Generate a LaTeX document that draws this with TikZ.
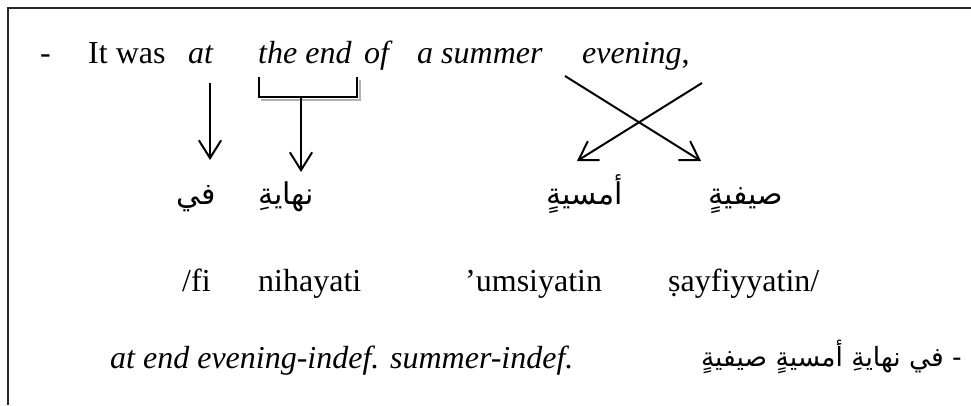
\documentclass[tikz,border=0pt]{standalone}
\usepackage{fontspec}
\setmainfont{Liberation Serif}
\newfontfamily\arabicfont[Script=Arabic]{DejaVu Sans}
\TeXXeTstate=1
\usetikzlibrary{arrows.meta}
\begin{document}
\begin{tikzpicture}[x=1pt,y=1pt,
  txt/.style={inner sep=0pt, anchor=base west, font=\fontsize{32}{36}\selectfont},
  itx/.style={txt, font=\fontsize{32}{36}\selectfont\itshape},
  arb/.style={inner sep=0pt, anchor=base, font=\fontsize{30}{34}\selectfont\arabicfont},
  arr/.style={line width=2pt, -{Straight Barb[angle=64:21pt, line width=2pt]}},
  frame/.style={line width=1.6pt, black!85}]
\useasboundingbox (0,0) rectangle (971,-405);
% frame (only top and left edges visible)
\coordinate (fbl) at (8,-405);
\coordinate (ftl) at (8,-8);
\coordinate (ftr) at (971,-8);
\draw[frame] (fbl) -- (ftl) -- (ftr);
% row 1
\node[txt] (dash) at (40,-63) {-};
\node[txt] (itwas) at (88,-63) {It was};
\node[itx] (at) at (188,-63) {at};
\node[itx] (theend) at (258,-63) {the end};
\node[itx] (of) at (364,-63) {of};
\node[itx] (asummer) at (417,-63) {a summer};
\node[itx] (evening) at (582,-63) {evening\upshape,};
% row 2 arabic
\node[arb] (fi) at (196,-204) {\beginR في\endR};
\node[arb] (nihaya) at (286,-204) {\beginR نهايةِ\endR};
\node[arb] (umsiya) at (585,-204) {\beginR أمسيةٍ\endR};
\node[arb] (sayfiya) at (746,-204) {\beginR صيفيةٍ\endR};
% row 3 transliteration
\node[txt] (tfi) at (182,-291) {/fi};
\node[txt] (tnih) at (258,-291) {nihayati};
\node[txt] (tums) at (465,-291) {’umsiyatin};
\node[txt] (tsay) at (668,-291) {ṣayfiyyatin/};
% row 4
\node[itx] (gloss) at (110,-368) {at end evening-indef. summer-indef.};
\node[arb, anchor=base east, font=\fontsize{26.5}{30}\selectfont\arabicfont] (arfull) at (962,-366) {\beginR - في نهايةِ أمسيةٍ صيفيةٍ\endR};
% arrow at -> fi
\coordinate (a1s) at (210,-83);
\coordinate (a1e) at (210,-160);
\draw[arr] (a1s) -- (a1e);
% bracket under "the end"
\coordinate (bl) at (259,-77);
\coordinate (br) at (357,-77);
\coordinate (bm) at (301,-97);
\coordinate (a2e) at (301,-172);
\draw[gray!60, line width=2pt] (261,-100) -- (360,-100) -- (360,-80);
\draw[line width=2pt] (bl) -- (259,-97) -- (357,-97) -- (br);
\draw[arr] (bm) -- (a2e);
% cross arrows
\coordinate (c1s) at (565,-76);
\coordinate (c1e) at (701,-161);
\coordinate (c2s) at (702,-83);
\coordinate (c2e) at (577,-161);
\draw[arr] (c1s) -- (c1e);
\draw[arr] (c2s) -- (c2e);
\end{tikzpicture}
\end{document}
